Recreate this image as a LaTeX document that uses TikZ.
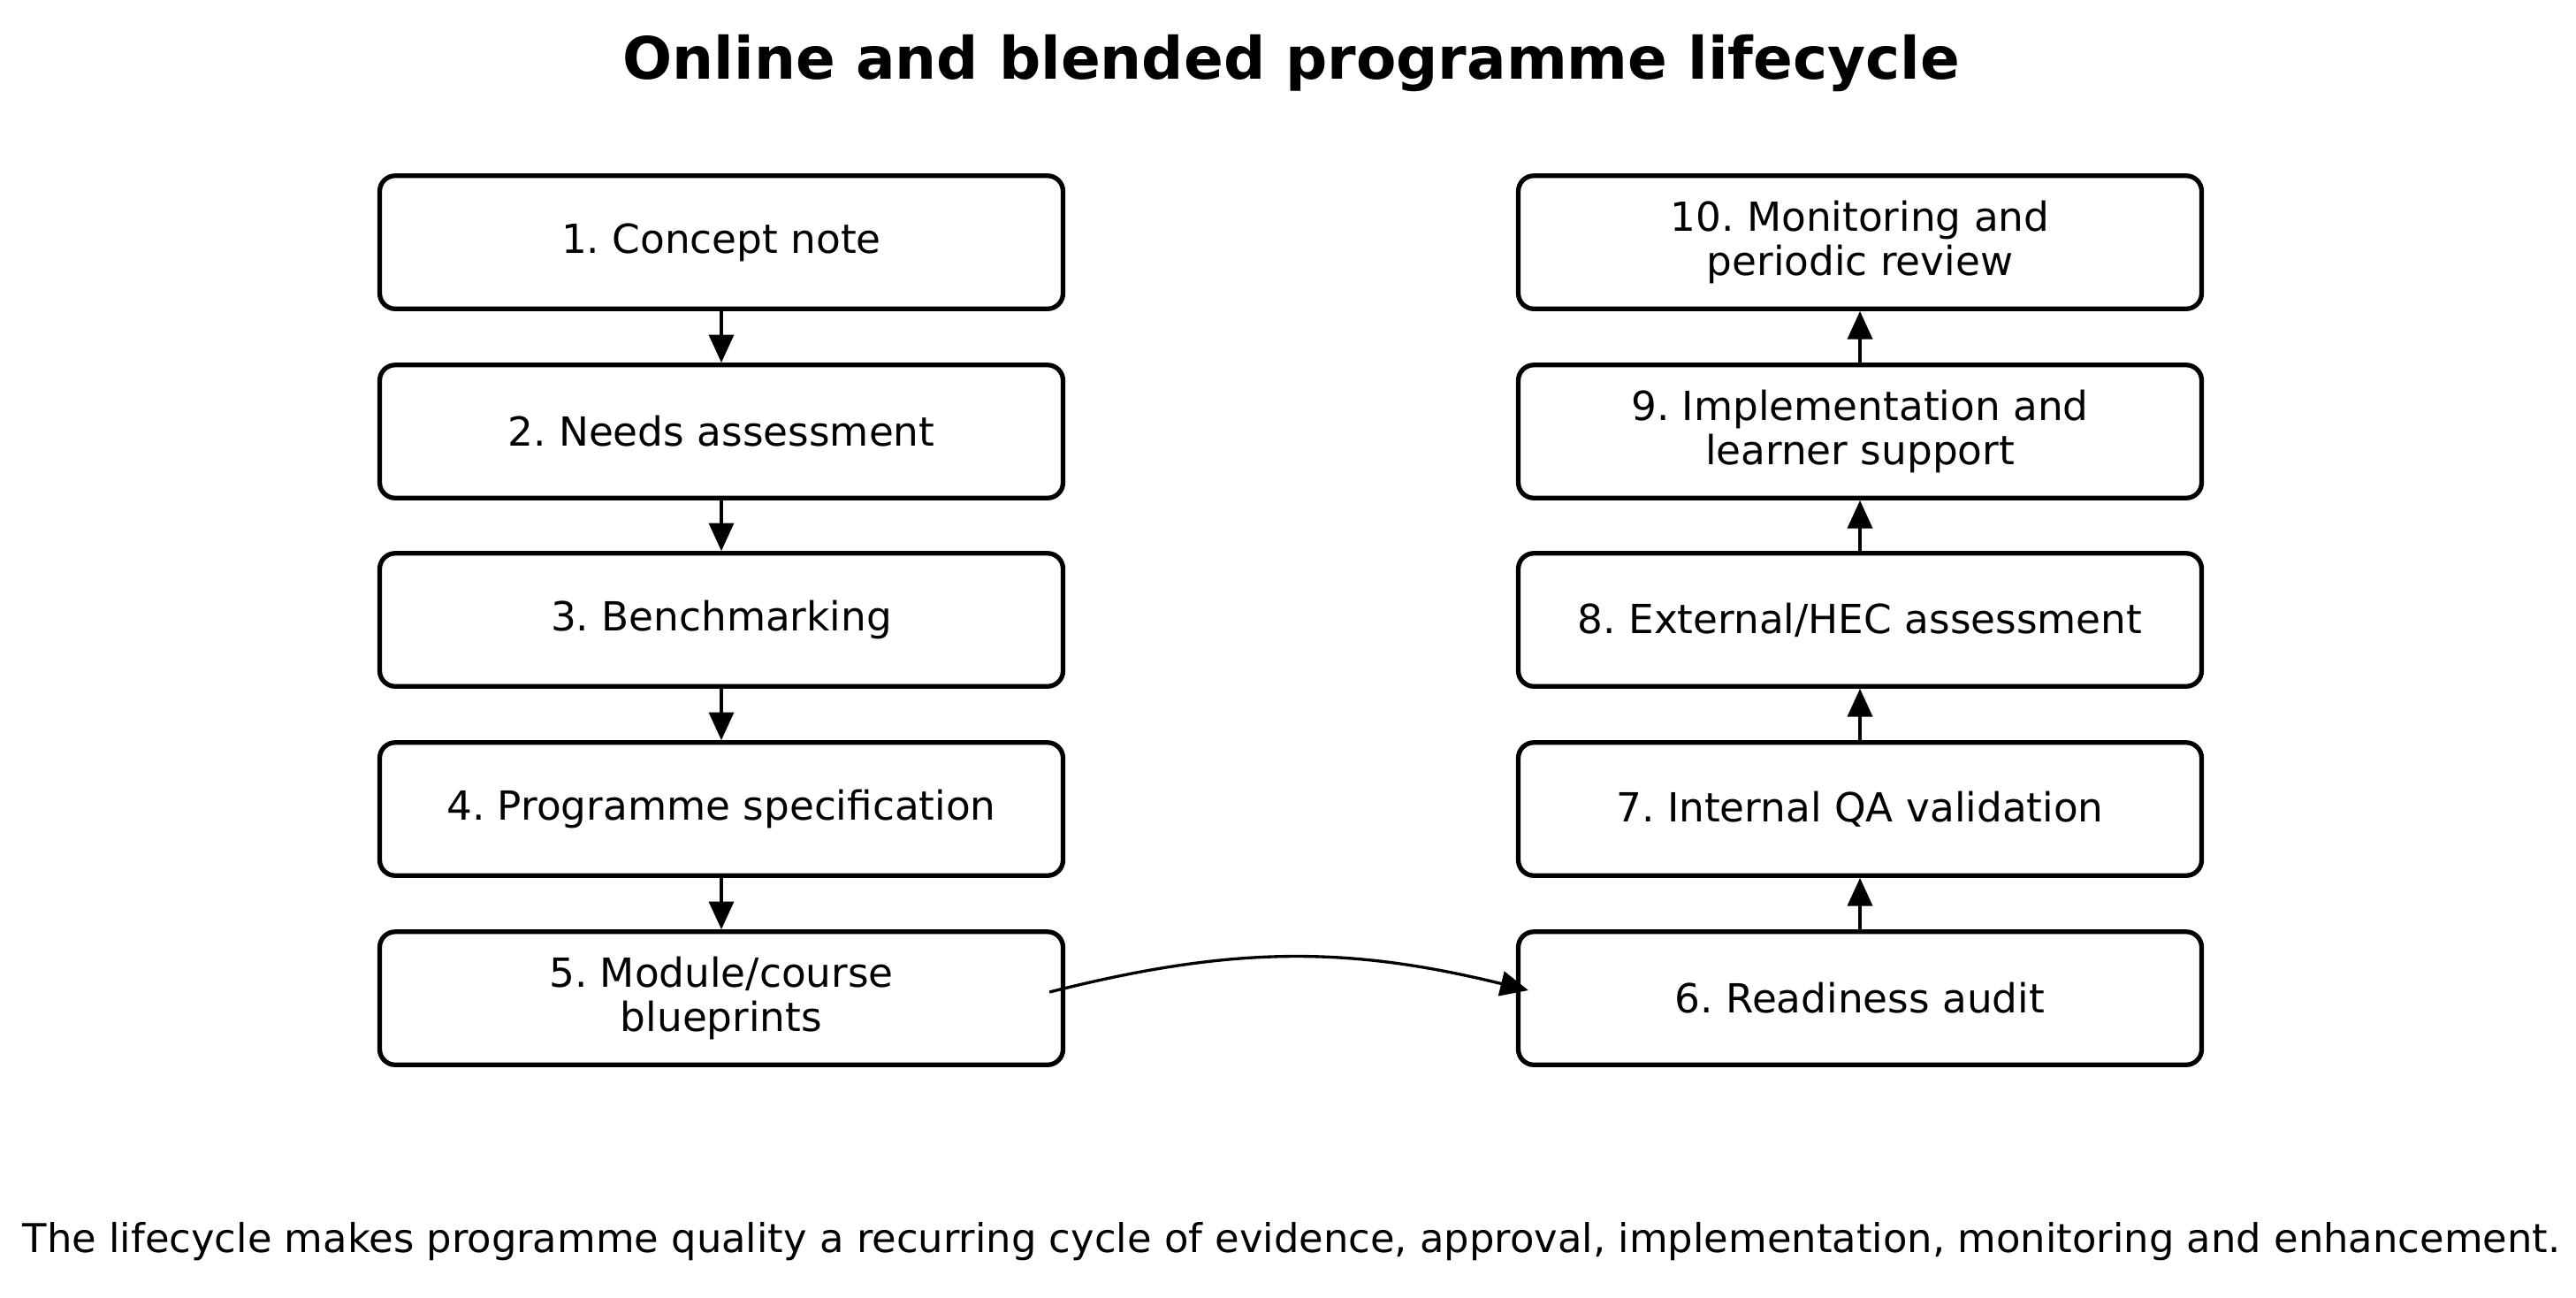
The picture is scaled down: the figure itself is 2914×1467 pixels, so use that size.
\documentclass[tikz,border=0pt]{standalone}
\usepackage{fontspec}
\setmainfont{DejaVu Sans}
\usetikzlibrary{arrows.meta,calc}
\frenchspacing
\tikzset{
  stage/.style={draw=black, line width=1.5pt, rounded corners=5pt, fill=white,
    minimum width=77.3mm, minimum height=15.05mm, align=center,
    font=\fontsize{12.9}{14.3}\selectfont\frenchspacing, inner sep=0pt},
  flow/.style={draw=black, line width=0.95pt, -{Triangle[length=9pt,width=8pt]}},
  titletext/.style={font=\fontsize{18.8}{22}\selectfont\bfseries},
  captiontext/.style={font=\fontsize{12.76}{15}\selectfont\frenchspacing}
}
\begin{document}
\begin{tikzpicture}[x=0.1mm,y=0.1mm]
\useasboundingbox[fill=white] (0,0) rectangle (2914,-1467);
\node[titletext] (title) at (1461,-72) {Online and blended programme lifecycle};
\node[stage] (s1) at (816,-274) {1. Concept note};
\node[stage] (s2) at (816,-488) {2. Needs assessment};
\node[stage] (s3) at (816,-701) {3. Benchmarking};
\node[stage] (s4) at (816,-915) {4. Programme specification};
\node[stage] (s5) at (816,-1129) {5. Module/course\\blueprints};
\node[stage] (s6) at (2104,-1129) {6. Readiness audit};
\node[stage] (s7) at (2104,-915) {7. Internal QA validation};
\node[stage] (s8) at (2104,-701) {8. External/HEC assessment};
\node[stage] (s9) at (2104,-488) {9. Implementation and\\learner support};
\node[stage] (s10) at (2104,-274) {10. Monitoring and\\periodic review};
\node[captiontext] (cap) at (1461,-1404) {The lifecycle makes programme quality a recurring cycle of evidence, approval, implementation, monitoring and enhancement.};
\draw[flow] (s1.south) -- (s2.north);
\draw[flow] (s2.south) -- (s3.north);
\draw[flow] (s3.south) -- (s4.north);
\draw[flow] (s4.south) -- (s5.north);
\draw[flow] (s6.north) -- (s7.south);
\draw[flow] (s7.north) -- (s8.south);
\draw[flow] (s8.north) -- (s9.south);
\draw[flow] (s9.north) -- (s10.south);
\coordinate (c5) at ($(s5.east)+(-18,7)$);
\coordinate (c6) at ($(s6.west)+(14,9)$);
\draw[flow] (c5) to[bend left=14] (c6);
\end{tikzpicture}
\end{document}
